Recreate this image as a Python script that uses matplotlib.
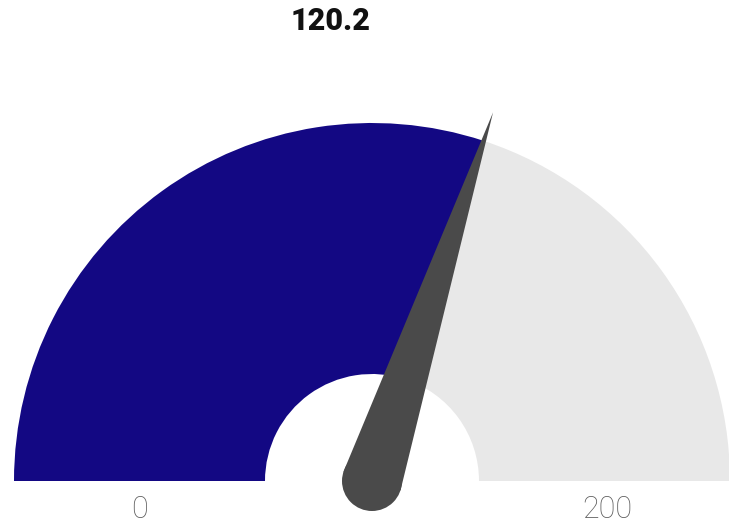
import numpy as np
import matplotlib
matplotlib.use("Agg")
import matplotlib.pyplot as plt
from matplotlib.patches import Wedge, Circle, Polygon

value = 120.2
min_val = 0
max_val = 200
labels = ["0", "200"]

fill_color = "#130883"
rest_color = "#e8e8e8"
needle_color = "#4a4a4a"

W, H = 729, 531
fig = plt.figure(figsize=(W / 100, H / 100), dpi=100)
ax = fig.add_axes([0, 0, 1, 1])
ax.set_xlim(0, W)
ax.set_ylim(0, H)
ax.set_aspect("equal")
ax.axis("off")

cx, cy = 372, 50      # gauge centre (pixels, y up)
R, r = 358, 107       # outer / inner radius

frac = (value - min_val) / (max_val - min_val)
ang = 180 - frac * 180

ax.add_patch(Wedge((cx, cy), R, ang, 180, width=R - r, color=fill_color, lw=0))
ax.add_patch(Wedge((cx, cy), R, 0, ang, width=R - r, color=rest_color, lw=0))

# needle
t = np.deg2rad(ang)
L = 388
hw = 30
tip = (cx + L * np.cos(t), cy + L * np.sin(t))
p1 = (cx + hw * np.cos(t + np.pi / 2), cy + hw * np.sin(t + np.pi / 2))
p2 = (cx + hw * np.cos(t - np.pi / 2), cy + hw * np.sin(t - np.pi / 2))
ax.add_patch(Polygon([p1, tip, p2], closed=True, color=needle_color, lw=0))
ax.add_patch(Circle((cx, cy), hw, color=needle_color, lw=0))

# labels
lab_font = ["Roboto", "DejaVu Sans"]
for x, s in [(cx - (R + r) / 2, labels[0]), (cx + (R + r) / 2 + 3, labels[1])]:
    ax.text(x, 21, s, ha="center", va="center", fontsize=22,
            fontweight="light", color="#5e5e5e", family=lab_font)

ax.text(331, 510, f"{value}", ha="center", va="center", fontsize=22,
        fontweight="heavy", color="#111111", family=["Roboto", "DejaVu Sans"])

fig.savefig("out.png", dpi=100)
